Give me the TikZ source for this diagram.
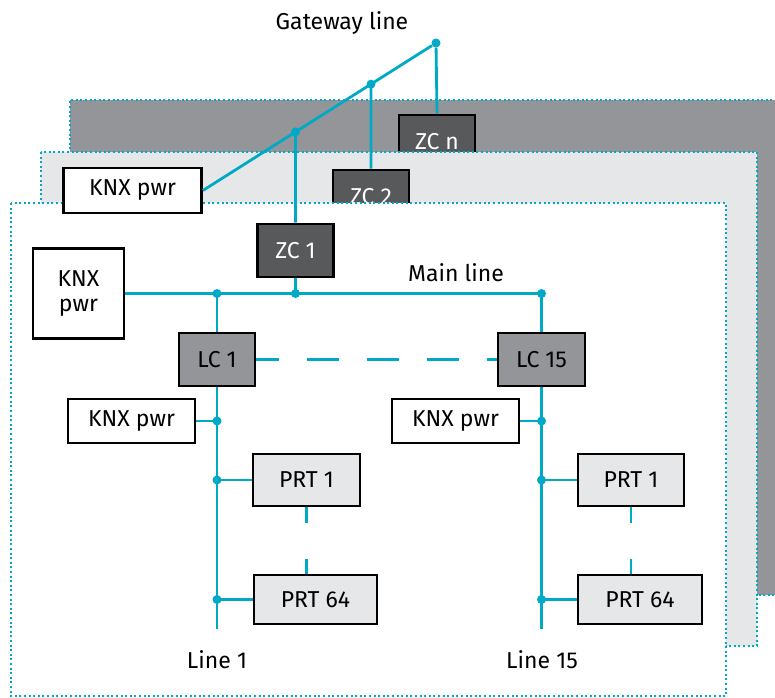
\documentclass[tikz,border=0pt]{standalone}
\usepackage{fontspec}
\setmainfont{Fira Sans}
\usetikzlibrary{positioning}
\definecolor{knxcyan}{HTML}{00A9C6}
\definecolor{darkzone}{HTML}{939598}
\definecolor{lightzone}{HTML}{E6E7E8}
\definecolor{zcgray}{HTML}{58595B}
\tikzset{
  box/.style={draw=black,line width=2.8pt,inner sep=0pt,font=\fontsize{23}{25}\selectfont},
  pwrbox/.style={box,fill=white},
  zcbox/.style={box,fill=zcgray,text=white,minimum width=76pt,minimum height=53pt},
  lcbox/.style={box,fill=darkzone,minimum height=53pt},
  prtbox/.style={box,fill=lightzone},
  bus/.style={knxcyan,line width=2.8pt},
  zone/.style={knxcyan,line width=2pt,dash pattern=on 2pt off 2.6pt},
  dot/.style={circle,fill=knxcyan,inner sep=0pt,minimum size=9pt},
  lbl/.style={font=\fontsize{23}{25}\selectfont}
}
\begin{document}
\begin{tikzpicture}[x=1pt,y=-1pt]
\useasboundingbox (0,0) rectangle (775,697);
% zone n
\fill[darkzone] (70,100) rectangle (800,595);
\draw[zone] (800,100) -- (70,100) -- (70,595) -- (800,595);
\node[zcbox] (zcn) at (437,141.5) {ZC n};
% zone 2
\fill[lightzone] (41,152) rectangle (757,646);
\draw[zone] (41,152) rectangle (757,646);
\node[zcbox] (zc2) at (371,196.5) {ZC 2};
% zone 1
\fill[white] (11,203) rectangle (726,696);
\draw[zone] (11,203) rectangle (726,696);
\node[pwrbox,minimum width=138pt,minimum height=45pt] (kgw) at (132.5,190.5) {KNX pwr};
\node[zcbox] (zc1) at (295.5,250.5) {ZC 1};
\node[pwrbox,align=center,minimum width=91pt,minimum height=90pt] (kmain) at (78.5,293.5) {KNX\\pwr};
\node[lcbox,minimum width=76pt] (lc1) at (217,359.5) {LC 1};
\node[lcbox,minimum width=87pt] (lc15) at (541.5,359.5) {LC 15};
\node[pwrbox,minimum width=127pt,minimum height=44pt] (kl1) at (131.5,421) {KNX pwr};
\node[pwrbox,minimum width=127pt,minimum height=44pt] (kl15) at (455.5,421) {KNX pwr};
\node[prtbox,minimum width=107pt,minimum height=52pt] (pa1) at (306.5,480) {PRT 1};
\node[prtbox,minimum width=123pt,minimum height=49pt] (pa64) at (315.5,599.5) {PRT 64};
\node[prtbox,minimum width=106pt,minimum height=52pt] (pb1) at (631,480) {PRT 1};
\node[prtbox,minimum width=124pt,minimum height=49pt] (pb64) at (640,599.5) {PRT 64};
% gateway line
\node[dot] (g3) at (436,43) {};
\coordinate (g2) at (intersection of kgw.east--g3 and zc2.north--zc2.south);
\coordinate (g1) at (intersection of kgw.east--g3 and zc1.north--zc1.south);
\draw[bus] (kgw.east) -- (g3) -- (zcn.north);
\draw[bus] (g2) -- (zc2.north);
\draw[bus] (g1) -- (zc1.north);
\node[dot] at (g2) {};
\node[dot] at (g1) {};
\node[lbl] (gwl) at (342,23) {Gateway line};
% main line
\coordinate (m1) at (lc1 |- kmain.east);
\coordinate (m2) at (zc1 |- kmain.east);
\coordinate (m3) at (lc15 |- kmain.east);
\draw[bus] (kmain.east) -- (m3) -- (lc15.north);
\draw[bus] (m1) -- (lc1.north);
\draw[bus] (zc1.south) -- (m2);
\foreach \j in {m1,m2,m3} \node[dot] at (\j) {};
\node[lbl] (mll) at (456,273) {Main line};
\draw[bus,dash pattern=on 32pt off 28pt,dash phase=9pt] (lc1.east) -- (lc15.west);
% line 1
\coordinate (e1) at (lc1 |- 0,629);
\draw[bus] (lc1.south) -- (e1);
\foreach \b in {kl1,pa1,pa64} {
  \coordinate (t) at (lc1 |- \b);
  \draw[bus] (\b) -- (t);
  \node[dot] at (t) {};
}
\draw[bus,dash pattern=on 16pt off 36pt] (pa1.south) -- (pa1.south |- pa64.north);
\node[lbl] (l1) at (217,660) {Line 1};
% line 15
\coordinate (e15) at (lc15 |- 0,629);
\draw[bus] (lc15.south) -- (e15);
\foreach \b in {kl15,pb1,pb64} {
  \coordinate (t) at (lc15 |- \b);
  \draw[bus] (\b) -- (t);
  \node[dot] at (t) {};
}
\draw[bus,dash pattern=on 16pt off 36pt] (pb1.south) -- (pb1.south |- pb64.north);
\node[lbl] (l15) at (542,660) {Line 15};
\end{tikzpicture}
\end{document}
